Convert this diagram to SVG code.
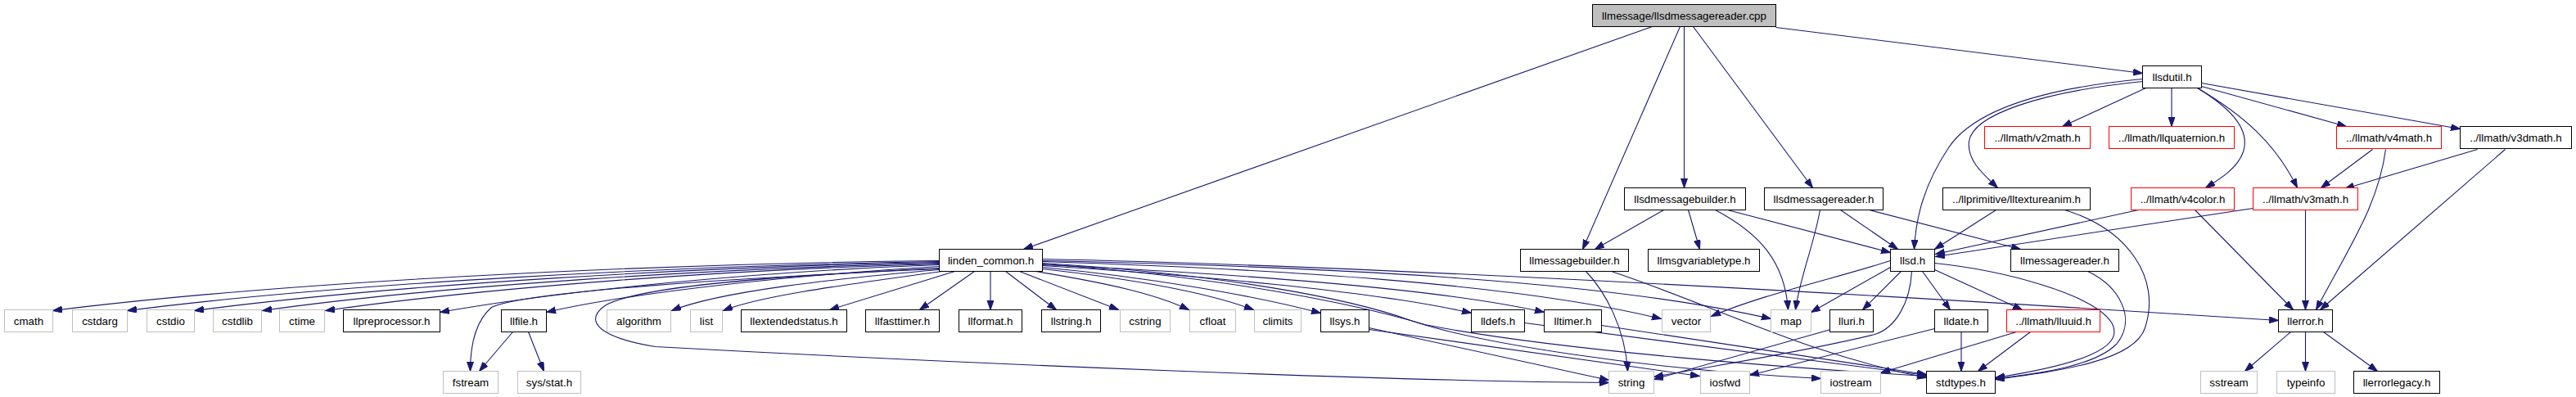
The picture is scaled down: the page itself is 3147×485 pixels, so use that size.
<svg xmlns="http://www.w3.org/2000/svg" width="3147" height="485" viewBox="0 0 3147 485">
<style>
.n rect{fill:#fff;stroke:#000;stroke-width:1}
.n.g rect{stroke:#bfbfbf}
.n.r rect{stroke:#ff0000}
.n.t rect{fill:#bfbfbf}
.n text{font-family:"Liberation Sans",Arial,Helvetica,sans-serif;font-size:13.33px;text-anchor:middle;fill:#000}
#edges path{fill:none;stroke:#191970;stroke-width:1.1;marker-end:url(#a)}
</style>
<defs>
<marker id="a" markerUnits="userSpaceOnUse" markerWidth="13" markerHeight="10" refX="11.5" refY="4" orient="auto">
<path d="M0,0 L11.5,4 L0,8 z" fill="#191970" stroke="#191970" stroke-width="1"/>
</marker>
</defs>
<rect width="3147" height="485" fill="#fff"/>
<g id="edges" transform="translate(0.5,0.5)">
<path d="M2018,32 L1250,304"/>
<path d="M2052,32 L1933,304"/>
<path d="M2057,32 L2057,229"/>
<path d="M2068,32 L2214,229"/>
<path d="M2169,33 L2617,89"/>
<path d="M2621,107 L2519,154"/>
<path d="M2652.5,107 L2652.5,154"/>
<path d="M2689,105 L2866,154"/>
<path d="M2689,101 L3005,157"/>
<path d="M2684,107 C2740,140 2780,175 2806,229"/>
<path d="M2684,107 C2730,135 2748,160 2740,185 C2733,205 2712,218 2694,229"/>
<path d="M2617,99 C2490,112 2410,140 2405,172 C2402,195 2422,212 2440,229"/>
<path d="M2617,96 C2490,108 2410,135 2380,180 C2350,225 2340,265 2338,304"/>
<path d="M2898,182 L2835,229"/>
<path d="M2914,182 C2905,250 2870,300 2829,378"/>
<path d="M3026,182 L2864,230"/>
<path d="M3060,182 L2834,378"/>
<path d="M2816,256 L2816,378"/>
<path d="M2681,256 L2801,378"/>
<path d="M2612,256 L2364,310"/>
<path d="M2752,254 L2364,313"/>
<path d="M2438,256 L2363,304"/>
<path d="M2522,256 C2600,280 2640,340 2620,400 C2607,440 2520,452 2437,463"/>
<path d="M2550,331 C2590,350 2610,390 2585,420 C2560,445 2500,455 2437,462"/>
<path d="M2363,321 C2450,330 2560,360 2580,395 C2595,425 2540,445 2437,461"/>
<path d="M2032,256 L1948,304"/>
<path d="M2062,256 L2076,304"/>
<path d="M2095,256 C2150,285 2180,320 2184,378"/>
<path d="M2110,256 L2309,308"/>
<path d="M2223,256 C2215,300 2198,340 2193,378"/>
<path d="M2248,256 L2318,304"/>
<path d="M2283,256 L2468,304"/>
<path d="M1937,331 C1960,355 1985,400 1988,453"/>
<path d="M1968,331 C2100,375 2200,430 2353,461"/>
<path d="M2309,318 C2240,340 2150,360 2090,386"/>
<path d="M2309,326 L2212,381"/>
<path d="M2322,331 L2275,378"/>
<path d="M2335,331 C2333,370 2315,400 2290,408 C2200,430 2100,445 2020,460"/>
<path d="M2348,331 L2382,378"/>
<path d="M2363,329 L2470,378"/>
<path d="M2236,402 L2020,463"/>
<path d="M2363,401 L2137,458"/>
<path d="M2395.5,405 L2395.5,453"/>
<path d="M2463,405 L2297,455"/>
<path d="M2480,405 L2416,453"/>
<path d="M2798,405 L2742,453"/>
<path d="M2816,405 L2816,453"/>
<path d="M2838,405 L2904,453"/>
<path d="M626,405 L585,453"/>
<path d="M645,405 L664,453"/>
<path d="M1672,400 L1965,464"/>
<path d="M1672,402 L2076,459"/>
<path d="M1862,394 L2353,458"/>
<path d="M1956,397 L2353,457"/>
<path d="M1147,318 C768,322 335,345 64,379"/>
<path d="M1147,319 C830,324 420,345 155,379"/>
<path d="M1147,320 C860,325 480,347 237,379"/>
<path d="M1147,321 C880,327 540,348 320,379"/>
<path d="M1147,322 C900,328 600,350 397,379"/>
<path d="M1147,323 C950,330 700,352 537,381"/>
<path d="M1147,325 C980,335 780,355 667,381"/>
<path d="M1147,327 C900,340 640,355 600,375 C580,392 574,420 574,453"/>
<path d="M1147,328 C950,336 780,350 740,372 C715,388 722,410 800,423 C1200,445 1700,465 1965,467"/>
<path d="M1147,329 C1020,340 880,355 820,379"/>
<path d="M1150,331 C1050,345 930,360 883,379"/>
<path d="M1166,331 L1013,378"/>
<path d="M1190,331 L1123,378"/>
<path d="M1209.5,331 L1209.5,378"/>
<path d="M1228,331 L1290,378"/>
<path d="M1245,331 L1366,378"/>
<path d="M1264,331 C1350,345 1410,358 1452,378"/>
<path d="M1273,328 C1380,340 1470,355 1531,378"/>
<path d="M1273,326 C1400,338 1530,360 1613,382"/>
<path d="M1273,324 C1450,335 1680,355 1797,382"/>
<path d="M1273,323 C1500,333 1760,352 1886,381"/>
<path d="M1273,319 C1550,328 1850,345 2029,389"/>
<path d="M1273,318 C1600,325 1950,340 2163,389"/>
<path d="M1273,316 C1700,325 2300,360 2783,391"/>
<path d="M1273,321 C1500,335 1650,365 1720,390 C1800,418 2000,450 2224,462"/>
<path d="M1273,322 C1500,338 1660,372 1740,396 C1900,428 2200,450 2353,459"/>
</g>
<g id="n_cpp" class="n t"><rect x="1945.5" y="5.5" width="224" height="27"/><text x="2057.5" y="23.5">llmessage/llsdmessagereader.cpp</text></g>
<g id="n_llsdutil" class="n"><rect x="2617.5" y="80.5" width="72" height="27"/><text x="2653.5" y="98.5">llsdutil.h</text></g>
<g id="n_v2math" class="n r"><rect x="2424.5" y="154.5" width="129" height="27"/><text x="2489" y="172.5">../llmath/v2math.h</text></g>
<g id="n_llquaternion" class="n r"><rect x="2576.5" y="154.5" width="153" height="27"/><text x="2653" y="172.5">../llmath/llquaternion.h</text></g>
<g id="n_v4math" class="n r"><rect x="2854.5" y="154.5" width="128" height="27"/><text x="2918.5" y="172.5">../llmath/v4math.h</text></g>
<g id="n_v3dmath" class="n"><rect x="3005.5" y="154.5" width="136" height="27"/><text x="3073.5" y="172.5">../llmath/v3dmath.h</text></g>
<g id="n_llsdmessagebuilder" class="n"><rect x="1984.5" y="229.5" width="148" height="27"/><text x="2058.5" y="247.5">llsdmessagebuilder.h</text></g>
<g id="n_llsdmessagereader" class="n"><rect x="2155.5" y="229.5" width="145" height="27"/><text x="2228" y="247.5">llsdmessagereader.h</text></g>
<g id="n_lltextureanim" class="n"><rect x="2373.5" y="229.5" width="180" height="27"/><text x="2463.5" y="247.5">../llprimitive/lltextureanim.h</text></g>
<g id="n_v4color" class="n r"><rect x="2603.5" y="229.5" width="126" height="27"/><text x="2666.5" y="247.5">../llmath/v4color.h</text></g>
<g id="n_v3math" class="n r"><rect x="2752.5" y="229.5" width="128" height="27"/><text x="2816.5" y="247.5">../llmath/v3math.h</text></g>
<g id="n_linden_common" class="n"><rect x="1147.5" y="304.5" width="126" height="27"/><text x="1210.5" y="322.5">linden_common.h</text></g>
<g id="n_llmessagebuilder" class="n"><rect x="1857.5" y="304.5" width="132" height="27"/><text x="1923.5" y="322.5">llmessagebuilder.h</text></g>
<g id="n_llmsgvariabletype" class="n"><rect x="2013.5" y="304.5" width="136" height="27"/><text x="2081.5" y="322.5">llmsgvariabletype.h</text></g>
<g id="n_llsd" class="n"><rect x="2309.5" y="304.5" width="54" height="27"/><text x="2336.5" y="322.5">llsd.h</text></g>
<g id="n_llmessagereader" class="n"><rect x="2456.5" y="304.5" width="132" height="27"/><text x="2522.5" y="322.5">llmessagereader.h</text></g>
<g id="n_cmath" class="n g"><rect x="5.5" y="378.5" width="59" height="27"/><text x="35" y="396.5">cmath</text></g>
<g id="n_cstdarg" class="n g"><rect x="88.5" y="378.5" width="67" height="27"/><text x="122" y="396.5">cstdarg</text></g>
<g id="n_cstdio" class="n g"><rect x="179.5" y="378.5" width="58" height="27"/><text x="208.5" y="396.5">cstdio</text></g>
<g id="n_cstdlib" class="n g"><rect x="260.5" y="378.5" width="59" height="27"/><text x="290" y="396.5">cstdlib</text></g>
<g id="n_ctime" class="n g"><rect x="341.5" y="378.5" width="55" height="27"/><text x="369" y="396.5">ctime</text></g>
<g id="n_llpreprocessor" class="n"><rect x="419.5" y="378.5" width="118" height="27"/><text x="478.5" y="396.5">llpreprocessor.h</text></g>
<g id="n_llfile" class="n"><rect x="612.5" y="378.5" width="55" height="27"/><text x="640" y="396.5">llfile.h</text></g>
<g id="n_algorithm" class="n g"><rect x="741.5" y="378.5" width="78" height="27"/><text x="780.5" y="396.5">algorithm</text></g>
<g id="n_list" class="n g"><rect x="843.5" y="378.5" width="39" height="27"/><text x="863" y="396.5">list</text></g>
<g id="n_llextendedstatus" class="n"><rect x="905.5" y="378.5" width="129" height="27"/><text x="970" y="396.5">llextendedstatus.h</text></g>
<g id="n_llfasttimer" class="n"><rect x="1057.5" y="378.5" width="90" height="27"/><text x="1102.5" y="396.5">llfasttimer.h</text></g>
<g id="n_llformat" class="n"><rect x="1171.5" y="378.5" width="77" height="27"/><text x="1210" y="396.5">llformat.h</text></g>
<g id="n_llstring" class="n"><rect x="1272.5" y="378.5" width="72" height="27"/><text x="1308.5" y="396.5">llstring.h</text></g>
<g id="n_cstring" class="n g"><rect x="1368.5" y="378.5" width="61" height="27"/><text x="1399" y="396.5">cstring</text></g>
<g id="n_cfloat" class="n g"><rect x="1453.5" y="378.5" width="56" height="27"/><text x="1481.5" y="396.5">cfloat</text></g>
<g id="n_climits" class="n g"><rect x="1532.5" y="378.5" width="57" height="27"/><text x="1561" y="396.5">climits</text></g>
<g id="n_llsys" class="n"><rect x="1613.5" y="378.5" width="59" height="27"/><text x="1643" y="396.5">llsys.h</text></g>
<g id="n_lldefs" class="n"><rect x="1797.5" y="378.5" width="65" height="27"/><text x="1830" y="396.5">lldefs.h</text></g>
<g id="n_lltimer" class="n"><rect x="1886.5" y="378.5" width="70" height="27"/><text x="1921.5" y="396.5">lltimer.h</text></g>
<g id="n_vector" class="n g"><rect x="2030.5" y="378.5" width="59" height="27"/><text x="2060" y="396.5">vector</text></g>
<g id="n_map" class="n g"><rect x="2163.5" y="378.5" width="49" height="27"/><text x="2188" y="396.5">map</text></g>
<g id="n_lluri" class="n"><rect x="2235.5" y="378.5" width="53" height="27"/><text x="2262" y="396.5">lluri.h</text></g>
<g id="n_lldate" class="n"><rect x="2363.5" y="378.5" width="65" height="27"/><text x="2396" y="396.5">lldate.h</text></g>
<g id="n_lluuid" class="n r"><rect x="2451.5" y="378.5" width="114" height="27"/><text x="2508.5" y="396.5">../llmath/lluuid.h</text></g>
<g id="n_llerror" class="n"><rect x="2783.5" y="378.5" width="66" height="27"/><text x="2816.5" y="396.5">llerror.h</text></g>
<g id="n_fstream" class="n g"><rect x="541.5" y="453.5" width="67" height="27"/><text x="575" y="471.5">fstream</text></g>
<g id="n_sysstat" class="n g"><rect x="632.5" y="453.5" width="77" height="27"/><text x="671" y="471.5">sys/stat.h</text></g>
<g id="n_string" class="n g"><rect x="1965.5" y="453.5" width="55" height="27"/><text x="1993" y="471.5">string</text></g>
<g id="n_iosfwd" class="n g"><rect x="2077.5" y="453.5" width="60" height="27"/><text x="2107.5" y="471.5">iosfwd</text></g>
<g id="n_iostream" class="n g"><rect x="2224.5" y="453.5" width="73" height="27"/><text x="2261" y="471.5">iostream</text></g>
<g id="n_stdtypes" class="n"><rect x="2353.5" y="453.5" width="84" height="27"/><text x="2395.5" y="471.5">stdtypes.h</text></g>
<g id="n_sstream" class="n g"><rect x="2688.5" y="453.5" width="69" height="27"/><text x="2723" y="471.5">sstream</text></g>
<g id="n_typeinfo" class="n g"><rect x="2781.5" y="453.5" width="71" height="27"/><text x="2817" y="471.5">typeinfo</text></g>
<g id="n_llerrorlegacy" class="n"><rect x="2875.5" y="453.5" width="105" height="27"/><text x="2928" y="471.5">llerrorlegacy.h</text></g>
</svg>
